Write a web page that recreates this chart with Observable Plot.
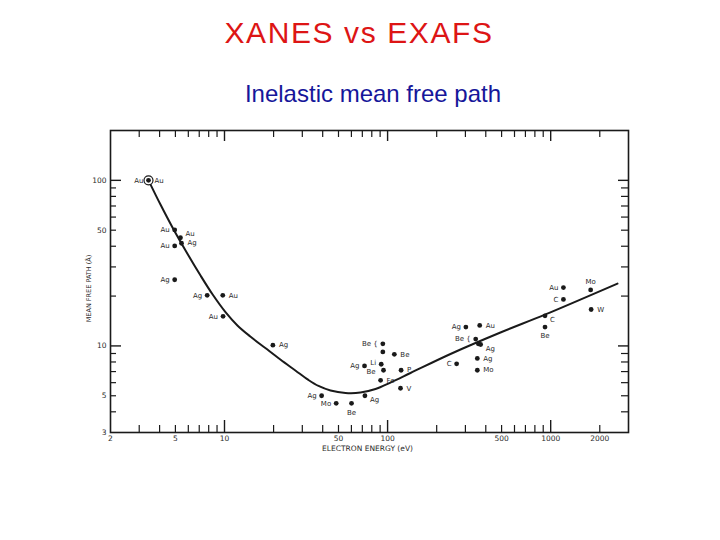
<!DOCTYPE html>
<html><head><meta charset="utf-8">
<script src="https://cdn.jsdelivr.net/npm/d3@7"></script>
<script src="https://cdn.jsdelivr.net/npm/@observablehq/plot@0.6"></script>
<style>
body{margin:0;background:#fff;}
#wrap{position:relative;width:720px;height:540px;overflow:hidden;background:#fff;}
#title{position:absolute;left:359px;top:18px;transform:translateX(-50%);white-space:nowrap;font:30px/30px "Liberation Sans",Arial,sans-serif;color:#dd1515;letter-spacing:1.6px;}
#sub{position:absolute;left:373px;top:82px;transform:translateX(-50%);white-space:nowrap;font:24px/24px "Liberation Sans",Arial,sans-serif;color:#16169a;}
#chart{position:absolute;left:0;top:0;}
</style></head>
<body><div id="wrap"><div id="chart"></div><div id="title">XANES vs EXAFS</div><div id="sub">Inelastic mean free path</div></div>
<script>
// Measured points: electron energy (eV), mean free path (Å), element, label side
const energy = [3.42, 4.95, 5.37, 4.95, 5.45, 4.95, 7.83, 9.76, 9.8, 19.8, 39.4, 48.4, 60.1, 72.6, 93.5, 93.5, 110, 72.2, 91.4, 94.4, 121, 90.6, 120, 265, 302, 367, 347, 360, 372, 355, 355, 923, 923, 1197, 1197, 1758, 1770];
const mfp    = [100, 50.2, 45, 40.2, 41.7, 25.1, 20.2, 20.2, 15.1, 10.1, 5.0, 4.5, 4.5, 5.0, 10.3, 9.2, 8.9, 7.57, 7.75, 7.13, 7.13, 6.2, 5.55, 7.8, 13.0, 13.3, 11.0, 10.3, 10.2, 8.4, 7.13, 15.2, 13.0, 22.5, 19.1, 21.8, 16.6];
const element= ["Au","Au","Au","Au","Ag","Ag","Ag","Au","Au","Ag","Ag","Mo","Be","Ag","Be {","","Be","Ag","Li","Be","P","Fe","V","C","Ag","Au","Be {","","Ag","Ag","Mo","C","Be","Au","C","Mo","W"];
const labelSide = ["LR","L","RU","L","R","L","L","R","L","R","L","L","B","RD","L","","R","L","LU","LD","R","R","R","L","L","R","L","","RD","R","R","RD","B","L","L","A","R"];
// Circled reference point
const ringEnergy = [3.42];
const ringMfp = [100];
// Universal curve
const curveEnergy = [3.42, 4.05, 4.80, 5.77, 7.13, 8.44, 10.14, 12.0, 14.4, 17.8, 22.0, 27.2, 32.7, 37.7, 44.7, 55.2, 68.2, 84.3, 104.2, 138.2, 243, 492, 929, 2568];
const curveMfp    = [100, 71.4, 51.9, 37.7, 26.6, 20.5, 16.0, 13.3, 11.4, 9.71, 8.28, 7.11, 6.23, 5.73, 5.38, 5.20, 5.23, 5.49, 6.01, 6.86, 8.94, 12.05, 15.5, 23.8];
// Axis ticks
const xMinor = [3,4,5,6,7,8,9,20,30,40,50,60,70,80,90,200,300,400,500,600,700,800,900,2000];
const xMajor = [10,100,1000];
const yMinor = [4,5,6,7,8,9,20,30,40,50,60,70,80,90];
const yMajor = [10,100];
const xTickLabels = [2,5,10,50,100,500,1000,2000];
const yTickLabels = [3,5,10,50,100];

const pts = energy.map((e,i)=>({e, m: mfp[i], el: element[i], side: labelSide[i]}));
const curve = curveEnergy.map((e,i)=>({e, m: curveMfp[i]}));
const ring = ringEnergy.map((e,i)=>({e, m: ringMfp[i]}));

const W = 720, H = 540, ML = 110, MR = 92, MT = 130, MB = 108;
const FW = W - ML - MR, FH = H - MT - MB;
const ink = "#1a1a1a";
const lbl = {fontFamily: "DejaVu Sans, sans-serif", fontSize: 7, fill: "#2a2a2a"};

const chart = Plot.plot({
  width: W, height: H,
  marginLeft: ML, marginRight: MR, marginTop: MT, marginBottom: MB,
  style: {background: "transparent", fontFamily: "DejaVu Sans, sans-serif", fontSize: "7px", color: "#2a2a2a"},
  x: {type: "log", domain: [2, 3000], axis: null},
  y: {type: "log", domain: [3, 200], axis: null},
  marks: [
    // inward ticks, bottom / top
    Plot.tickX(xMinor, {x: d=>d, insetTop: FH - 7, stroke: ink, strokeWidth: 1.2}),
    Plot.tickX(xMajor, {x: d=>d, insetTop: FH - 12, stroke: ink, strokeWidth: 1.4}),
    Plot.tickX(xMinor, {x: d=>d, insetBottom: FH - 7, stroke: ink, strokeWidth: 1.2}),
    Plot.tickX(xMajor, {x: d=>d, insetBottom: FH - 11, stroke: ink, strokeWidth: 1.4}),
    // inward ticks, left / right
    Plot.tickY(yMinor, {y: d=>d, insetRight: FW - 6, stroke: ink, strokeWidth: 1.2}),
    Plot.tickY(yMajor, {y: d=>d, insetRight: FW - 11, stroke: ink, strokeWidth: 1.4}),
    Plot.tickY(yMinor, {y: d=>d, insetLeft: FW - 7, stroke: ink, strokeWidth: 1.2}),
    Plot.tickY(yMajor, {y: d=>d, insetLeft: FW - 10, stroke: ink, strokeWidth: 1.4}),
    Plot.frame({stroke: ink, strokeWidth: 1.6}),
    // tick labels
    Plot.text(xTickLabels, {x: d=>d, frameAnchor: "bottom", text: d=>String(d), dy: 8, ...lbl, fontSize: 7.5}),
    Plot.text(yTickLabels, {y: d=>d, frameAnchor: "left", text: d=>String(d), textAnchor: "end", dx: -4, ...lbl, fontSize: 7.5}),
    // axis titles
    Plot.text(["ELECTRON ENERGY (eV)"], {frameAnchor: "bottom", dy: 18.5, dx: -2, ...lbl, fontSize: 7.5, style: "letter-spacing:0.9px"}),
    Plot.text(["MEAN FREE PATH (Å)"], {frameAnchor: "left", textAnchor: "middle", rotate: -90, dx: -22, dy: 7, ...lbl, fontSize: 6.5, style: "letter-spacing:0.6px"}),
    // universal curve
    Plot.line(curve, {x: "e", y: "m", curve: "catmull-rom", stroke: ink, strokeWidth: 2}),
    // data points
    Plot.dot(ring, {x: "e", y: "m", r: 4.5, stroke: ink, strokeWidth: 1.2, fill: "white"}),
    Plot.dot(pts, {x: "e", y: "m", r: 2.4, fill: ink}),
    Plot.dot(ring, {x: "e", y: "m", r: 1.3, fill: ink}),
    // element labels
    Plot.text(pts.filter(d=>d.side==="L"||d.side==="LR"), {x: "e", y: "m", text: "el", textAnchor: "end", dx: -5, ...lbl}),
    Plot.text(pts.filter(d=>d.side==="LU"), {x: "e", y: "m", text: "el", textAnchor: "end", dx: -5, dy: -2, ...lbl}),
    Plot.text(pts.filter(d=>d.side==="LD"), {x: "e", y: "m", text: "el", textAnchor: "end", dx: -8, dy: 2, ...lbl}),
    Plot.text(pts.filter(d=>d.side==="R"||d.side==="LR"), {x: "e", y: "m", text: "el", textAnchor: "start", dx: 6, ...lbl}),
    Plot.text(pts.filter(d=>d.side==="RU"), {x: "e", y: "m", text: "el", textAnchor: "start", dx: 5, dy: -4, ...lbl}),
    Plot.text(pts.filter(d=>d.side==="RD"), {x: "e", y: "m", text: "el", textAnchor: "start", dx: 5, dy: 4, ...lbl}),
    Plot.text(pts.filter(d=>d.side==="A"), {x: "e", y: "m", text: "el", dy: -8, ...lbl}),
    Plot.text(pts.filter(d=>d.side==="B"), {x: "e", y: "m", text: "el", dy: 9, ...lbl})
  ]
});
document.getElementById("chart").appendChild(chart);
</script>
</body></html>
